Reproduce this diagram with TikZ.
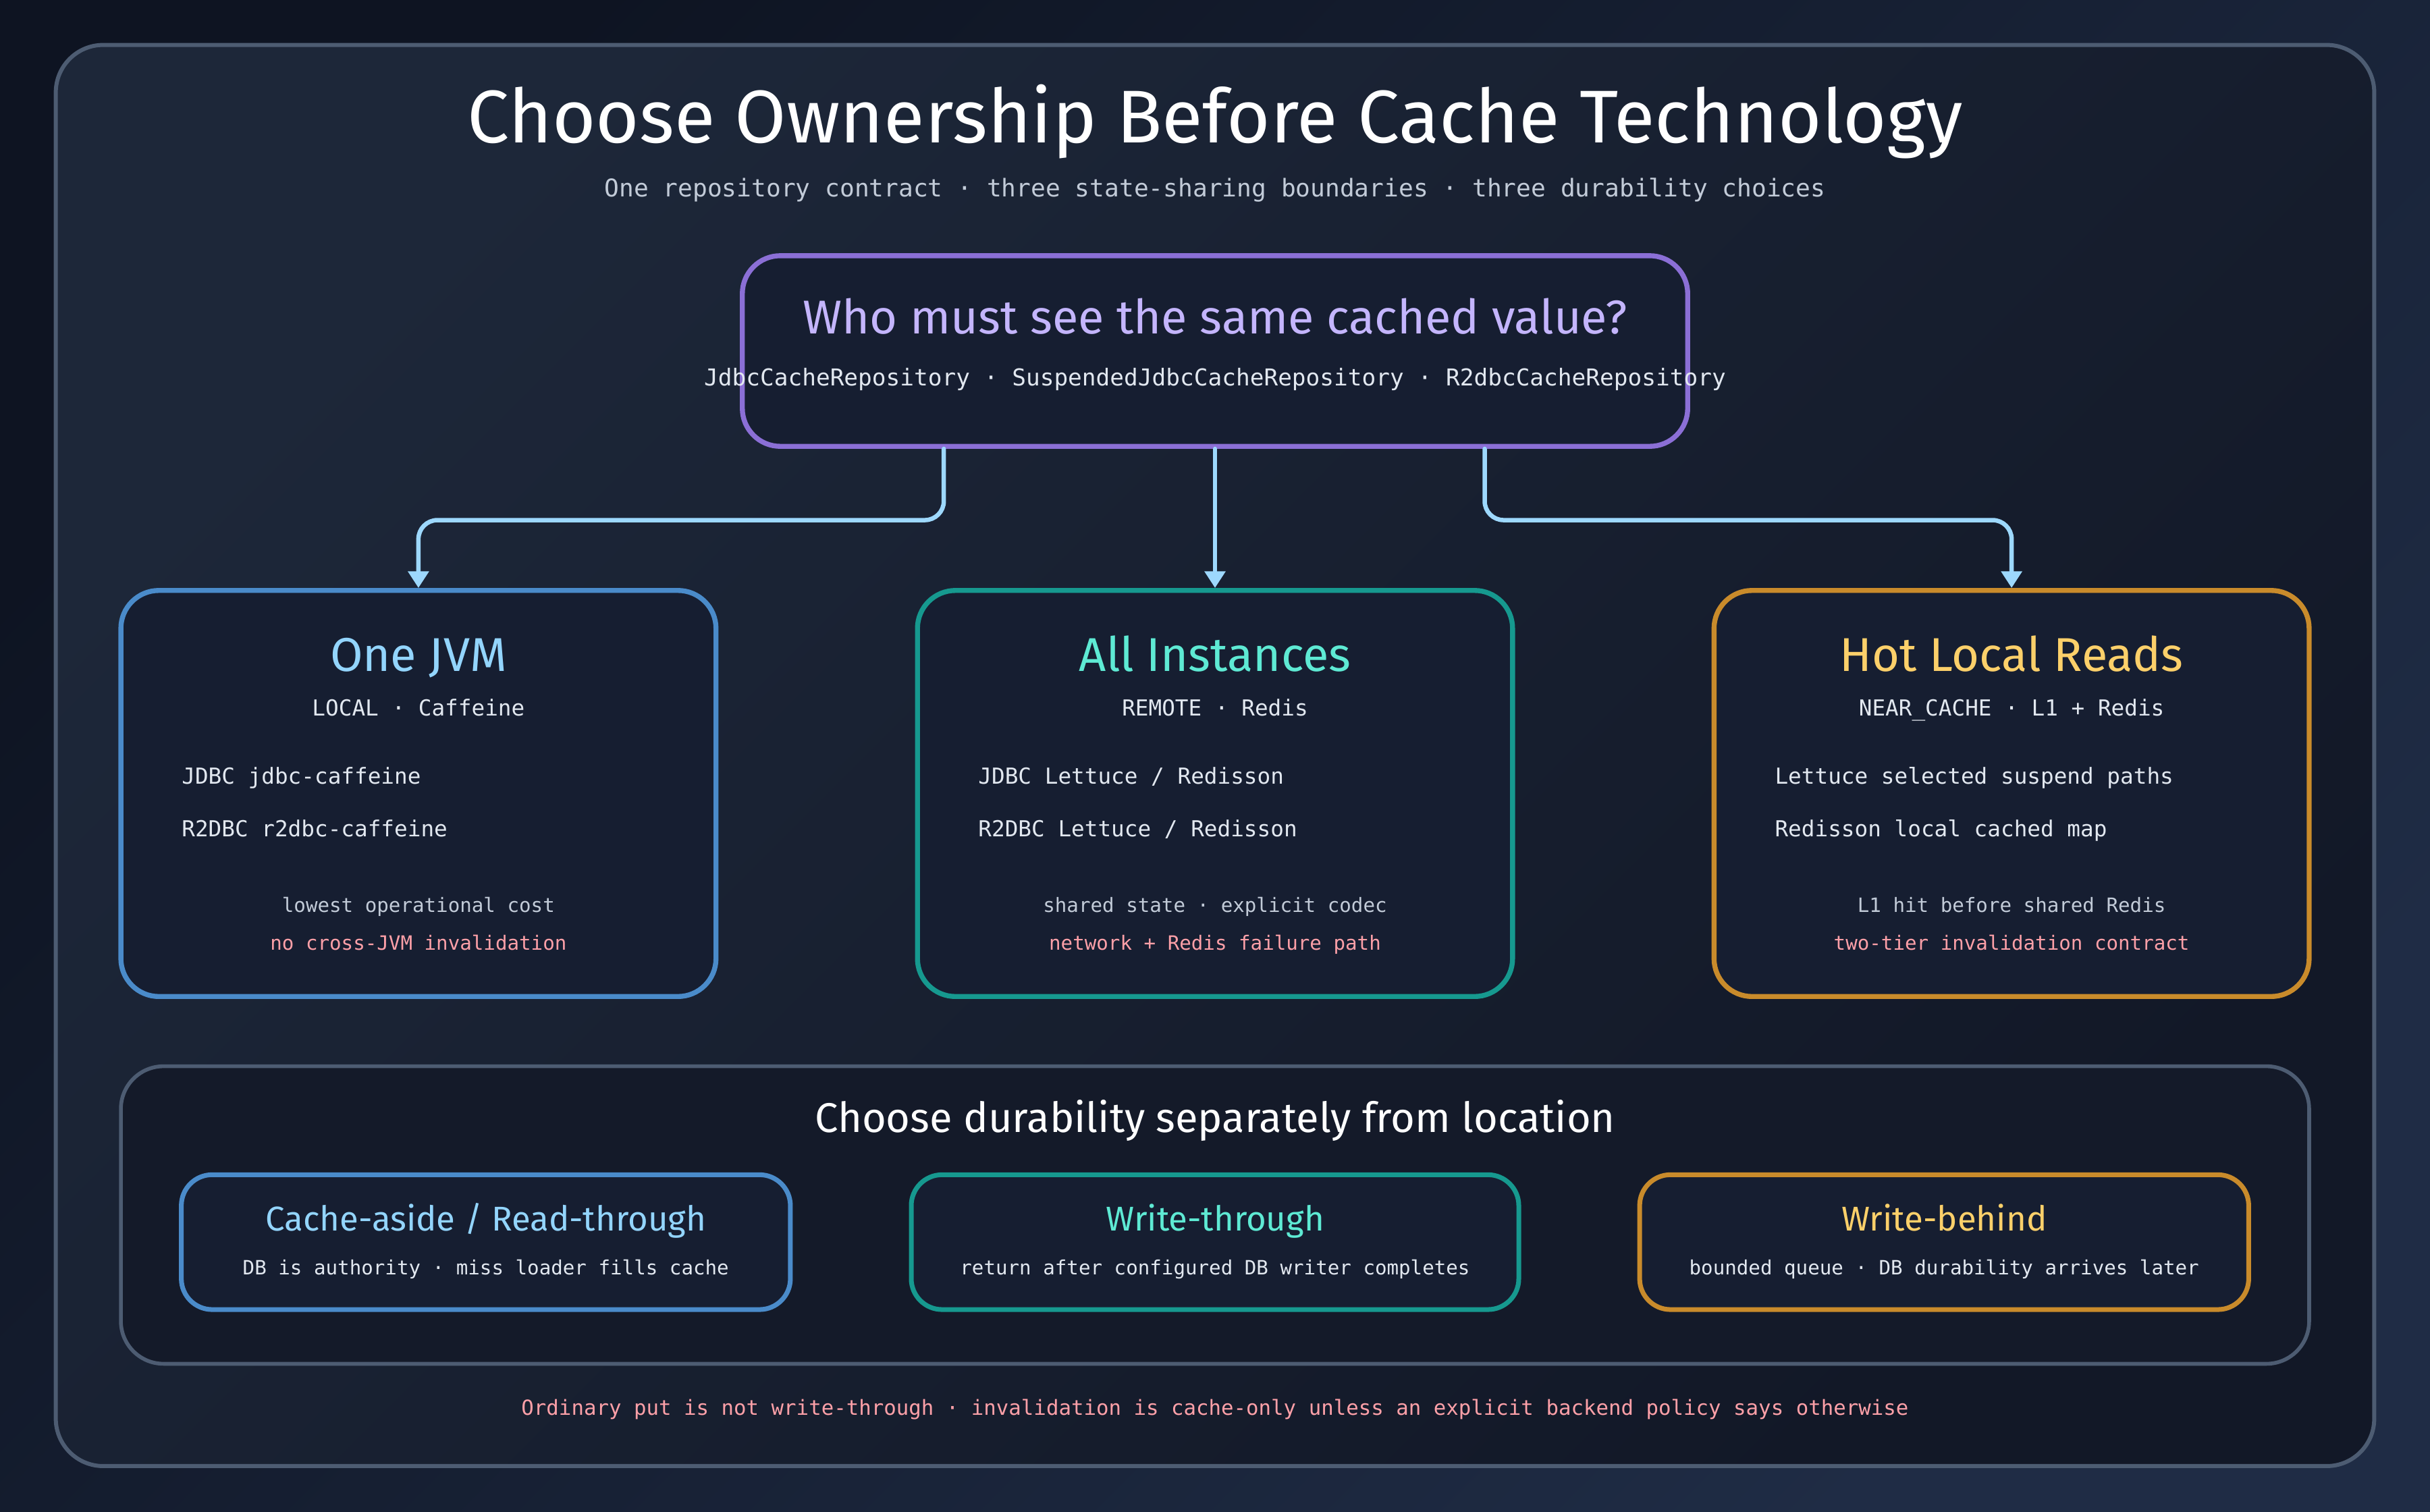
\documentclass[tikz,border=0pt]{standalone}
\usepackage{fontspec}
\setmainfont{Fira Sans}
\newfontfamily\headfont{Fira Sans}
\newfontfamily\codefont{DejaVu Sans Mono}
\usetikzlibrary{arrows.meta,calc}
\def\UU{0.2296mm}
\definecolor{bgA}{HTML}{0E1422}
\definecolor{bgB}{HTML}{1F2C45}
\definecolor{panA}{HTML}{1D2739}
\definecolor{panB}{HTML}{121827}
\definecolor{panstroke}{HTML}{4D5C72}
\definecolor{boxfill}{HTML}{161E31}
\definecolor{subfill}{HTML}{141A29}
\definecolor{purp}{HTML}{8B6FD6}
\definecolor{purptext}{HTML}{C4B5FD}
\definecolor{arrowc}{HTML}{9DD8FD}
\definecolor{bluec}{HTML}{4A8BCA}
\definecolor{bluetext}{HTML}{93D5FD}
\definecolor{tealc}{HTML}{16998F}
\definecolor{minttext}{HTML}{5EEAD4}
\definecolor{orangec}{HTML}{C98B2B}
\definecolor{yellowtext}{HTML}{FCD06A}
\definecolor{whitetext}{HTML}{E2E8F0}
\definecolor{graytext}{HTML}{C2CBD8}
\definecolor{pinktext}{HTML}{FDA0A8}
\tikzset{
  card/.style={rectangle, inner sep=0pt, line width=2.1pt, rounded corners=16pt, fill=boxfill},
  smallcard/.style={rectangle, inner sep=0pt, line width=2pt, rounded corners=13pt, fill=boxfill},
  headtxt/.style={inner sep=0pt, anchor=mid, font=\headfont\fontsize{#1}{#1}\selectfont},
  codetxt/.style={inner sep=0pt, anchor=mid, font=\codefont\fontsize{#1}{#1}\selectfont},
  flow/.style={draw=arrowc, line width=1.85pt, line cap=round, rounded corners=8pt,
    -{Triangle[width=8.5pt,length=7pt]}},
}
\begin{document}
\begin{tikzpicture}[x=\UU, y=-\UU]
\useasboundingbox (0,0) rectangle (1568,975.6);
\shade[top color=bgA, bottom color=bgB, shading angle=45] (0,0) rectangle (1568,975.6);

% outer panel
\node[rectangle, inner sep=0pt, draw=panstroke, line width=1.7pt, rounded corners=20pt,
  top color=panA, bottom color=panB, shading angle=45,
  minimum width=1496*\UU, minimum height=917*\UU] (outer) at (784,487.5) {};

\node[headtxt=31.5, text=white] (title) at (784,88) {Choose Ownership Before Cache Technology};
\node[codetxt=10.3, text=graytext] (subtitle) at (784,123) {One repository contract · three state-sharing boundaries · three durability choices};

% question box
\node[card, draw=purp, minimum width=610*\UU, minimum height=123*\UU] (top) at (784,226.5) {};
\node[headtxt=20, text=purptext] (qtitle) at (784,211.5) {Who must see the same cached value?};
\node[codetxt=9.8, text=whitetext] (qsub) at (784,245) {JdbcCacheRepository · SuspendedJdbcCacheRepository · R2dbcCacheRepository};

% three ownership boxes
\node[card, draw=bluec, minimum width=384*\UU, minimum height=262*\UU] (left) at (270,512) {};
\node[card, draw=tealc, minimum width=384*\UU, minimum height=262*\UU] (mid) at (784,512) {};
\node[card, draw=orangec, minimum width=384*\UU, minimum height=262*\UU] (right) at (1298,512) {};

\node[headtxt=20, text=bluetext] (lt) at (270,429) {One JVM};
\node[codetxt=9.3, text=whitetext] (ls) at (270,458) {LOCAL · Caffeine};
\node[codetxt=9.3, text=whitetext, anchor=mid west] (l1) at (117,502) {JDBC jdbc-caffeine};
\node[codetxt=9.3, text=whitetext, anchor=mid west] (l2) at (117,536) {R2DBC r2dbc-caffeine};
\node[codetxt=8.3, text=graytext] (l3) at (270,584.5) {lowest operational cost};
\node[codetxt=8.3, text=pinktext] (l4) at (270,609) {no cross-JVM invalidation};

\node[headtxt=20, text=minttext] (mt) at (784,429) {All Instances};
\node[codetxt=9.3, text=whitetext] (ms) at (784,458) {REMOTE · Redis};
\node[codetxt=9.3, text=whitetext, anchor=mid west] (m1) at (631,502) {JDBC Lettuce / Redisson};
\node[codetxt=9.3, text=whitetext, anchor=mid west] (m2) at (631,536) {R2DBC Lettuce / Redisson};
\node[codetxt=8.3, text=graytext] (m3) at (784,584.5) {shared state · explicit codec};
\node[codetxt=8.3, text=pinktext] (m4) at (784,609) {network + Redis failure path};

\node[headtxt=20, text=yellowtext] (rt) at (1298,429) {Hot Local Reads};
\node[codetxt=9.3, text=whitetext] (rs) at (1298,458) {NEAR\_CACHE · L1 + Redis};
\node[codetxt=9.3, text=whitetext, anchor=mid west] (r1) at (1145,502) {Lettuce selected suspend paths};
\node[codetxt=9.3, text=whitetext, anchor=mid west] (r2) at (1145,536) {Redisson local cached map};
\node[codetxt=8.3, text=graytext] (r3) at (1298,584.5) {L1 hit before shared Redis};
\node[codetxt=8.3, text=pinktext] (r4) at (1298,609) {two-tier invalidation contract};

% connectors
\draw[flow] ($(top.south)+(-175,0)$) -- ++(0,46) -| (left.north);
\draw[flow] (top.south) -- (mid.north);
\draw[flow] ($(top.south)+(174,0)$) -- ++(0,46) -| (right.north);

% durability panel
\node[rectangle, inner sep=0pt, draw=panstroke, line width=1.6pt, rounded corners=18pt,
  fill=subfill, minimum width=1412*\UU, minimum height=192*\UU] (dur) at (784,784) {};
\node[headtxt=17.5, text=white] (durtitle) at (784,726.5) {Choose durability separately from location};

\node[smallcard, draw=bluec, minimum width=393*\UU, minimum height=87*\UU] (ca) at (313.5,801.5) {};
\node[smallcard, draw=tealc, minimum width=392*\UU, minimum height=87*\UU] (wt) at (784,801.5) {};
\node[smallcard, draw=orangec, minimum width=393*\UU, minimum height=87*\UU] (wb) at (1254.5,801.5) {};

\node[headtxt=14.5, text=bluetext] (cat) at (313.5,790) {Cache-aside / Read-through};
\node[codetxt=8.3, text=whitetext] (cas) at (313.5,818.5) {DB is authority · miss loader fills cache};
\node[headtxt=14.5, text=minttext] (wtt) at (784,790) {Write-through};
\node[codetxt=8.3, text=whitetext] (wts) at (784,818.5) {return after configured DB writer completes};
\node[headtxt=14.5, text=yellowtext] (wbt) at (1254.5,790) {Write-behind};
\node[codetxt=8.3, text=whitetext] (wbs) at (1254.5,818.5) {bounded queue · DB durability arrives later};

\node[codetxt=8.75, text=pinktext] (foot) at (784,909) {Ordinary put is not write-through · invalidation is cache-only unless an explicit backend policy says otherwise};
\end{tikzpicture}
\end{document}
